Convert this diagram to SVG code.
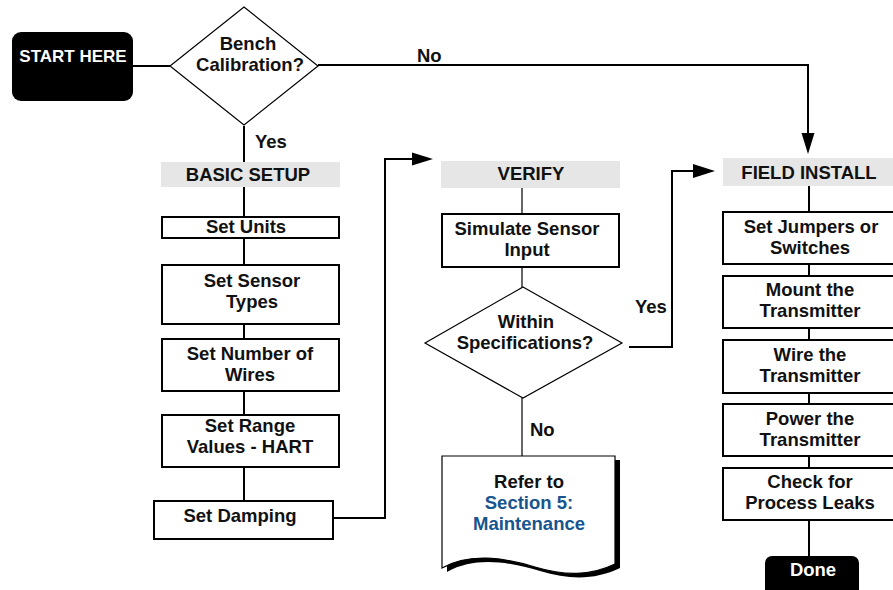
<svg xmlns="http://www.w3.org/2000/svg" width="893" height="590" viewBox="0 0 893 590">
<defs>
<style>
.t{font-family:"Liberation Sans",Arial,sans-serif;font-weight:700;font-size:18.5px;fill:#111;text-anchor:middle}
.l{text-anchor:start}
.w{fill:#fff}
.b{fill:#17558f}
.box{fill:#fff;stroke:#000;stroke-width:2}
.dia{fill:#fff;stroke:#000;stroke-width:1.2}
.ban{fill:#e6e6e6}
.c{fill:none;stroke:#000;stroke-width:2}
.thin{fill:none;stroke:#000;stroke-width:1.2}
.term{fill:#000}
</style>
</defs>
<rect width="893" height="590" fill="#fff"/>
<g id="connectors">
<line class="c" x1="133" y1="66" x2="170" y2="66"/>
<path class="c" d="M318,65 H808 V136"/>
<polygon points="801.5,133 814.5,133 808,154" fill="#000"/>
<line class="c" x1="244" y1="126" x2="244" y2="162"/>
<line class="c" x1="244" y1="187" x2="244" y2="217"/>
<line class="c" x1="244" y1="238" x2="244" y2="265"/>
<line class="c" x1="244" y1="324" x2="244" y2="339"/>
<line class="c" x1="244" y1="391" x2="244" y2="415"/>
<line class="c" x1="244" y1="467" x2="244" y2="501"/>
<path class="c" d="M333,518 H385 V159 H414"/>
<polygon points="412,152.5 433,159 412,165.5" fill="#000"/>
<line class="thin" x1="522" y1="188" x2="522" y2="214"/>
<line class="thin" x1="522" y1="267" x2="522" y2="287"/>
<path class="c" d="M629,347 H672 V171 H695"/>
<polygon points="693,164 715,171 693,178" fill="#000"/>
<line class="thin" x1="522" y1="398" x2="522" y2="457"/>
<line class="c" x1="809" y1="186" x2="809" y2="212"/>
<line class="c" x1="809" y1="264" x2="809" y2="276"/>
<line class="c" x1="809" y1="328" x2="809" y2="340"/>
<line class="c" x1="809" y1="393" x2="809" y2="404"/>
<line class="c" x1="809" y1="456" x2="809" y2="468"/>
<line class="c" x1="809" y1="520" x2="809" y2="556"/>
<text class="t l" x="417" y="62">No</text>
<text class="t l" x="255" y="148">Yes</text>
<text class="t l" x="635" y="313">Yes</text>
<text class="t l" x="530" y="436">No</text>
</g>
<g id="start">
<rect class="term" x="12" y="32" width="121" height="69" rx="9"/>
<text class="t w" x="73" y="62" style="font-size:17px">START HERE</text>
</g>
<g id="bench">
<polygon class="dia" points="244,7 318,66 244,125 170,66"/>
<text class="t" x="248" y="50">Bench</text>
<text class="t" x="250" y="71">Calibration?</text>
</g>
<g id="basic-setup">
<rect class="ban" x="161" y="162" width="179" height="25"/>
<text class="t" x="248" y="181">BASIC SETUP</text>
</g>
<g id="set-units">
<rect class="box" x="162" y="217" width="177" height="21"/>
<text class="t" x="246" y="233">Set Units</text>
</g>
<g id="set-sensor-types">
<rect class="box" x="162" y="265" width="177" height="59"/>
<text class="t" x="252" y="287">Set Sensor</text>
<text class="t" x="252" y="308">Types</text>
</g>
<g id="set-number-wires">
<rect class="box" x="162" y="339" width="177" height="52"/>
<text class="t" x="250" y="360">Set Number of</text>
<text class="t" x="250" y="381">Wires</text>
</g>
<g id="set-range">
<rect class="box" x="162" y="415" width="177" height="52"/>
<text class="t" x="250" y="432">Set Range</text>
<text class="t" x="250" y="453">Values - HART</text>
</g>
<g id="set-damping">
<rect class="box" x="154" y="501" width="179" height="38"/>
<text class="t" x="240" y="522">Set Damping</text>
</g>
<g id="verify">
<rect class="ban" x="441" y="161" width="179" height="27"/>
<text class="t" x="531" y="180">VERIFY</text>
</g>
<g id="simulate">
<rect class="box" x="442" y="214" width="177" height="53"/>
<text class="t" x="527" y="235">Simulate Sensor</text>
<text class="t" x="527" y="256">Input</text>
</g>
<g id="within">
<polygon class="dia" points="523,287 622,343 523,398 425,343"/>
<text class="t" x="526" y="328">Within</text>
<text class="t" x="525" y="349">Specifications?</text>
</g>
<g id="refer">
<path d="M447,460 H620 V568 C595,580 570,580 540,571 C510,562 475,556 447,572 Z" fill="#000"/>
<path d="M442,456 H615 V564 C590,576 565,576 535,567 C505,558 470,552 442,568 Z" fill="#fff" stroke="#000" stroke-width="1.2"/>
<text class="t" x="529" y="488">Refer to</text>
<text class="t b" x="529" y="509">Section 5:</text>
<text class="t b" x="529" y="530">Maintenance</text>
</g>
<g id="field-install">
<rect class="ban" x="723" y="158" width="175" height="28"/>
<text class="t" x="809" y="179">FIELD INSTALL</text>
</g>
<g id="set-jumpers">
<rect class="box" x="723" y="212" width="180" height="52"/>
<text class="t" x="811" y="233">Set Jumpers or</text>
<text class="t" x="810" y="254">Switches</text>
</g>
<g id="mount">
<rect class="box" x="723" y="276" width="180" height="52"/>
<text class="t" x="810" y="296">Mount the</text>
<text class="t" x="810" y="317">Transmitter</text>
</g>
<g id="wire">
<rect class="box" x="723" y="340" width="180" height="53"/>
<text class="t" x="810" y="361">Wire the</text>
<text class="t" x="810" y="382">Transmitter</text>
</g>
<g id="power">
<rect class="box" x="723" y="404" width="180" height="52"/>
<text class="t" x="810" y="425">Power the</text>
<text class="t" x="810" y="446">Transmitter</text>
</g>
<g id="check">
<rect class="box" x="723" y="468" width="180" height="52"/>
<text class="t" x="810" y="488">Check for</text>
<text class="t" x="810" y="509">Process Leaks</text>
</g>
<g id="done">
<rect class="term" x="765" y="556" width="94" height="44" rx="7"/>
<text class="t w" x="813" y="576">Done</text>
</g>
</svg>
